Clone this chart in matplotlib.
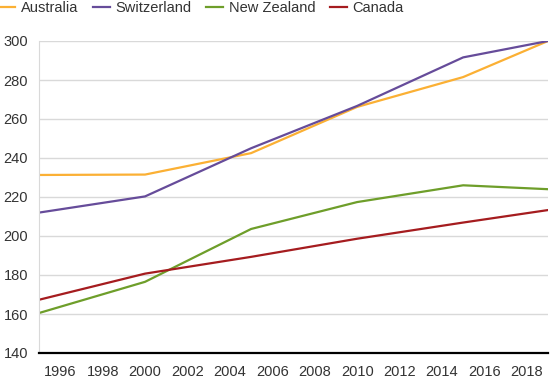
import numpy as np
from matplotlib import pyplot as plt

years = [1995, 2000, 2005, 2010, 2015, 2019]
australia = [231.3, 231.5, 242.5, 266.2, 281.5, 300.0]
switzerland = [212.0, 220.3, 245.0, 266.7, 291.6, 300.0]
new_zealand = [160.5, 176.5, 203.6, 217.4, 226.0, 224.0]
canada = [167.3, 180.7, 189.3, 198.6, 206.9, 213.3]

names = ["Australia", "Switzerland", "New Zealand", "Canada"]
colors = ["#FBB034", "#664C9A", "#6E9E2A", "#A51C1F"]
series = [australia, switzerland, new_zealand, canada]

plt.rcParams['font.family'] = ['Liberation Sans', 'DejaVu Sans']

fig = plt.figure(figsize=(5.55, 3.82), dpi=100)
ax = fig.add_axes([39 / 555, 1 - 353 / 382, (548 - 39) / 555, (353 - 41) / 382])

for vals, c, n in zip(series, colors, names):
    ax.plot(years, vals, color=c, linewidth=1.6, label=n, solid_joinstyle='miter')

ax.set_xlim(1995, 2019)
ax.set_ylim(140, 300)
ax.set_yticks(np.arange(140, 301, 20))
ax.set_xticks(np.arange(1996, 2019, 2))
ax.grid(axis='y', color='#D9D9D9', linewidth=1)
ax.set_axisbelow(True)
for s in ['top', 'right']:
    ax.spines[s].set_visible(False)
ax.spines['left'].set_color('#D9D9D9')
ax.spines['bottom'].set_color('black')
ax.spines['bottom'].set_linewidth(1.6)
ax.spines['bottom'].set_zorder(5)
ax.tick_params(axis='both', length=0, labelsize=10.5, colors='#333333')
ax.tick_params(axis='x', pad=9)
ax.tick_params(axis='y', pad=8)

ax.legend(loc='lower left', bbox_to_anchor=(-0.08, 1.082), ncol=4, frameon=False,
          fontsize=10.5, handlelength=1.15, handletextpad=0.4, columnspacing=1.0,
          borderaxespad=0, borderpad=0, labelcolor='#333333')

fig.savefig('out.png', dpi=100)
